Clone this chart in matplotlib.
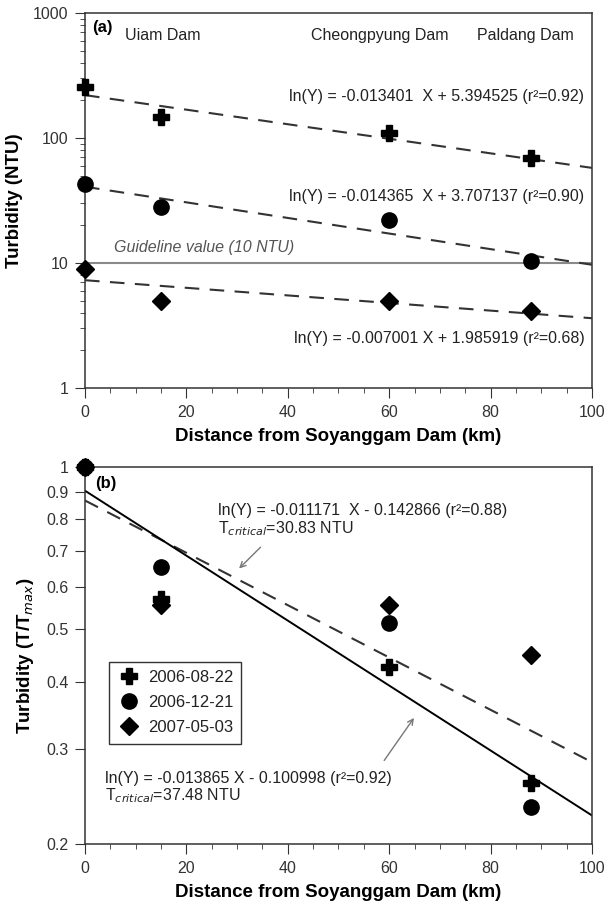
import numpy as np
import matplotlib
matplotlib.use("Agg")
import matplotlib.pyplot as plt
from matplotlib.ticker import FixedLocator, NullFormatter, NullLocator

plt.rcParams['font.family'] = ['Liberation Sans', 'DejaVu Sans']

# distance from Soyanggam Dam (km)
dist = [0, 15, 60, 88]

# (a) turbidity (NTU)
t_0822 = [255, 146, 110, 69]
t_1221 = [43, 28, 22, 10.3]
t_0503 = [9.0, 5.0, 5.0, 4.1]

# fit coefficients ln(Y) = a X + b
fit_a = [(-0.013401, 5.394525), (-0.014365, 3.707137), (-0.007001, 1.985919)]

# (b) normalised turbidity T/Tmax
n_0822 = [1.0, 0.57, 0.425, 0.26]
n_1221 = [1.0, 0.653, 0.514, 0.234]
n_0503 = [1.0, 0.555, 0.556, 0.449]
fit_dash = (-0.011171, -0.142866)
fit_solid = (-0.013865, -0.100998)

xx = np.array([0, 100])
txt = '#222222'
fs = 11.5

fig = plt.figure(figsize=(6.05, 9.06), dpi=100)
ax1 = fig.add_axes([0.1405, 0.5717, 0.838, 0.414])
ax2 = fig.add_axes([0.1405, 0.0684, 0.838, 0.4161])

mk = dict(color='black', linestyle='none', clip_on=False, zorder=5)

# ---- panel (a)
ax1.axhline(10, color='#8a8a8a', lw=1.5, zorder=1)
for a, b in fit_a:
    ax1.plot(xx, np.exp(a * xx + b), color='#333333', lw=1.5, dashes=(7, 5), zorder=2)
ax1.plot(dist, t_0822, marker='P', ms=12, **mk)
ax1.plot(dist, t_1221, marker='o', ms=11, **mk)
ax1.plot(dist, t_0503, marker='D', ms=9, **mk)

ax1.set_yscale('log')
ax1.set_xlim(0, 100)
ax1.set_ylim(1, 1000)
ax1.set_yticks([1, 10, 100, 1000])
ax1.set_yticklabels(['1', '10', '100', '1000'])
ax1.set_xticks([0, 20, 40, 60, 80, 100])
ax1.xaxis.set_minor_locator(FixedLocator(np.arange(0, 101, 5)))
ax1.yaxis.set_minor_formatter(NullFormatter())
ax1.set_xlabel('Distance from Soyanggam Dam (km)', fontsize=13.5, fontweight='bold', labelpad=6)
ax1.set_ylabel('Turbidity (NTU)', fontsize=13.5, fontweight='bold', labelpad=7)

ax1.text(1.4, 770, '(a)', fontsize=12, fontweight='bold', va='center')
ax1.text(7.9, 665, 'Uiam Dam', fontsize=fs, va='center', color=txt)
ax1.text(44.6, 665, 'Cheongpyung Dam', fontsize=fs, va='center', color=txt)
ax1.text(77.4, 665, 'Paldang Dam', fontsize=fs, va='center', color=txt)
ax1.text(98.5, 213, 'ln(Y) = -0.013401  X + 5.394525 (r²=0.92)', fontsize=fs, ha='right', va='center', color=txt)
ax1.text(98.5, 34, 'ln(Y) = -0.014365  X + 3.707137 (r²=0.90)', fontsize=fs, ha='right', va='center', color=txt)
ax1.text(98.5, 2.5, 'ln(Y) = -0.007001 X + 1.985919 (r²=0.68)', fontsize=fs, ha='right', va='center', color=txt)
ax1.text(5.8, 13.2, 'Guideline value (10 NTU)', fontsize=fs, style='italic', va='center', color='#555555')

# ---- panel (b)
ax2.plot(xx, np.exp(fit_dash[0] * xx + fit_dash[1]), color='#333333', lw=1.5, dashes=(7, 5), zorder=2)
ax2.plot(xx, np.exp(fit_solid[0] * xx + fit_solid[1]), color='black', lw=1.4, zorder=2)
ax2.plot(dist, n_0822, marker='P', ms=12, label='2006-08-22', **mk)
ax2.plot(dist, n_1221, marker='o', ms=11, label='2006-12-21', **mk)
ax2.plot(dist, n_0503, marker='D', ms=9, label='2007-05-03', **mk)

ax2.set_yscale('log')
ax2.set_xlim(0, 100)
ax2.set_ylim(0.2, 1)
yt = [0.2, 0.3, 0.4, 0.5, 0.6, 0.7, 0.8, 0.9, 1]
ax2.yaxis.set_major_locator(FixedLocator(yt))
ax2.yaxis.set_minor_locator(NullLocator())
ax2.set_yticklabels(['0.2', '0.3', '0.4', '0.5', '0.6', '0.7', '0.8', '0.9', '1'])
ax2.set_xticks([0, 20, 40, 60, 80, 100])
ax2.xaxis.set_minor_locator(FixedLocator(np.arange(0, 101, 5)))
ax2.set_xlabel('Distance from Soyanggam Dam (km)', fontsize=13.5, fontweight='bold', labelpad=6)
ax2.set_ylabel('Turbidity (T/T$_{max}$)', fontsize=13.5, fontweight='bold', labelpad=7)

ax2.text(1.9, 0.934, '(b)', fontsize=12, fontweight='bold', va='center')
ax2.text(26.2, 0.83, 'ln(Y) = -0.011171  X - 0.142866 (r²=0.88)', fontsize=fs, va='center', color=txt)
ax2.text(26.2, 0.77, 'T$_{critical}$=30.83 NTU', fontsize=fs, va='center', color=txt)
ax2.annotate('', xy=(30, 0.643), xytext=(35, 0.716),
             arrowprops=dict(arrowstyle='->', color='#777777', lw=1))
ax2.text(4.0, 0.265, 'ln(Y) = -0.013865 X - 0.100998 (r²=0.92)', fontsize=fs, va='center', color=txt)
ax2.text(4.0, 0.246, 'T$_{critical}$=37.48 NTU', fontsize=fs, va='center', color=txt)
ax2.annotate('', xy=(65.2, 0.346), xytext=(58.7, 0.283),
             arrowprops=dict(arrowstyle='->', color='#777777', lw=1))

leg = ax2.legend(loc='upper left', bbox_to_anchor=(0.048, 0.483), frameon=True,
                 fancybox=False, edgecolor='black', fontsize=12, handletextpad=0.5,
                 borderpad=0.5, labelspacing=0.6, handlelength=1.3, borderaxespad=0)
leg.get_frame().set_linewidth(1.0)
for t in leg.get_texts():
    t.set_color(txt)

for ax in (ax1, ax2):
    ax.tick_params(which='both', direction='out', labelsize=11.5, labelcolor='#333333', color='#333333')
    ax.tick_params(which='major', length=7, pad=5)
    ax.tick_params(which='minor', length=3.5)
    for s in ax.spines.values():
        s.set_linewidth(1.1)
        s.set_color('#333333')

fig.savefig('out.png', dpi=100)
